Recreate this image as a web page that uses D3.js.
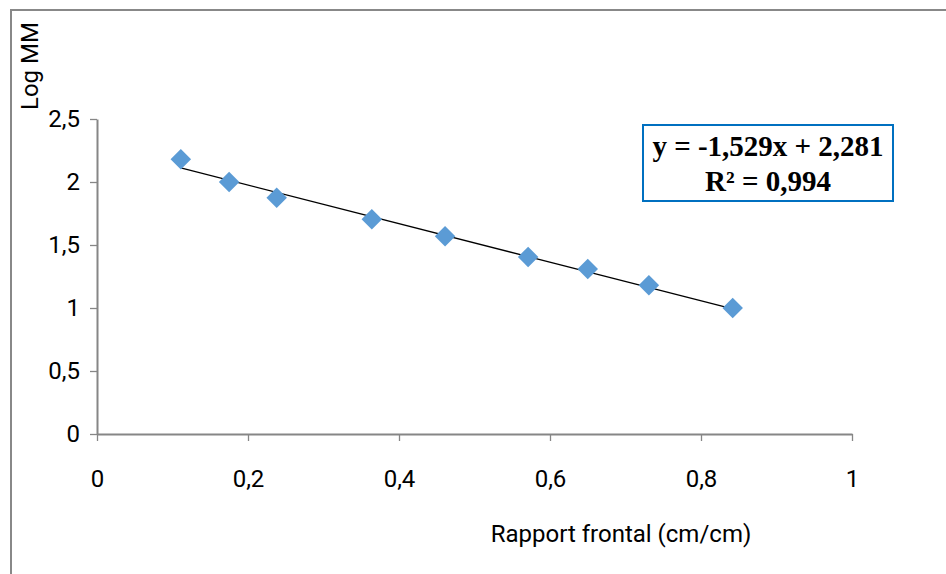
<!DOCTYPE html>
<html lang="fr">
<head>
<meta charset="UTF-8" />
<title>Log MM vs rapport frontal</title>
<script src="https://d3js.org/d3.v7.min.js"></script>
<style>
  body { margin: 0; background: #fff; }
  svg text { font-family: Roboto, "Liberation Sans", sans-serif; }
</style>
</head>
<body>
<div id="chart"></div>
<script>
// data
const rapportFrontal = [0.111, 0.175, 0.238, 0.364, 0.461, 0.571, 0.650, 0.731, 0.842];
const logMM = [2.18, 2.00, 1.875, 1.705, 1.57, 1.405, 1.31, 1.18, 1.00];
const xTicks = [0, 0.2, 0.4, 0.6, 0.8, 1];
const yTicks = [0, 0.5, 1, 1.5, 2, 2.5];
const slope = -1.529, intercept = 2.281;
const eqLines = ["y = -1,529x + 2,281", "R² = 0,994"];

const W = 946, H = 574;
const svg = d3.select("#chart").append("svg")
  .attr("width", W).attr("height", H);

// outer chart frame (only top and left edges visible)
svg.append("path")
  .attr("d", `M11,${H} V10 H${W}`)
  .attr("fill", "none").attr("stroke", "#888").attr("stroke-width", 2);

const x = d3.scaleLinear().domain([0, 1]).range([97, 852]);
const y = d3.scaleLinear().domain([0, 2.5]).range([434, 119]);
const fmt = d => String(d).replace(".", ",");

const xAxis = svg.append("g")
  .attr("transform", `translate(0,${y(0)})`)
  .call(d3.axisBottom(x).tickValues(xTicks).tickFormat(fmt).tickSizeInner(7).tickSizeOuter(0).tickPadding(29));
const yAxis = svg.append("g")
  .attr("transform", `translate(${x(0)},0)`)
  .call(d3.axisLeft(y).tickValues(yTicks).tickFormat(fmt).tickSizeInner(7).tickSizeOuter(0).tickPadding(10));

[xAxis, yAxis].forEach(g => {
  g.attr("font-size", null).attr("font-family", null);
  g.select(".domain").attr("stroke", "#868686").attr("stroke-width", 2);
  g.selectAll(".tick line").attr("stroke", "#868686").attr("stroke-width", 1.3);
  g.selectAll(".tick text").attr("fill", "#000").style("font-size", "24px");
});

// axis titles
svg.append("text")
  .attr("x", 621).attr("y", 542)
  .attr("text-anchor", "middle").style("font-size", "24px")
  .text("Rapport frontal (cm/cm)");

svg.append("text")
  .attr("transform", "translate(38,110) rotate(-90)")
  .attr("text-anchor", "start").style("font-size", "24px")
  .text("Log MM");

// linear trend line over the data range
const x0 = d3.min(rapportFrontal), x1 = d3.max(rapportFrontal);
svg.append("line")
  .attr("x1", x(x0)).attr("y1", y(slope * x0 + intercept))
  .attr("x2", x(x1)).attr("y2", y(slope * x1 + intercept))
  .attr("stroke", "#000").attr("stroke-width", 1.3);

// diamond markers
const diamond = d3.symbol().type(d3.symbolSquare).size(210);
svg.append("g").selectAll("path")
  .data(rapportFrontal)
  .join("path")
  .attr("d", diamond)
  .attr("transform", (d, i) => `translate(${x(d)},${y(logMM[i])}) rotate(45)`)
  .attr("fill", "#5B9BD5");

// equation box
const box = svg.append("g").attr("transform", "translate(643,125)");
box.append("rect")
  .attr("width", 250).attr("height", 76)
  .attr("fill", "#fff").attr("stroke", "#0070C0").attr("stroke-width", 2);
box.selectAll("text")
  .data(eqLines)
  .join("text")
  .attr("x", 125).attr("y", (d, i) => 31 + i * 35)
  .attr("text-anchor", "middle")
  .attr("font-weight", "bold")
  .style("font-size", "29px")
  .style("font-family", "'Liberation Serif', 'Times New Roman', serif")
  .text(d => d);
</script>
</body>
</html>
